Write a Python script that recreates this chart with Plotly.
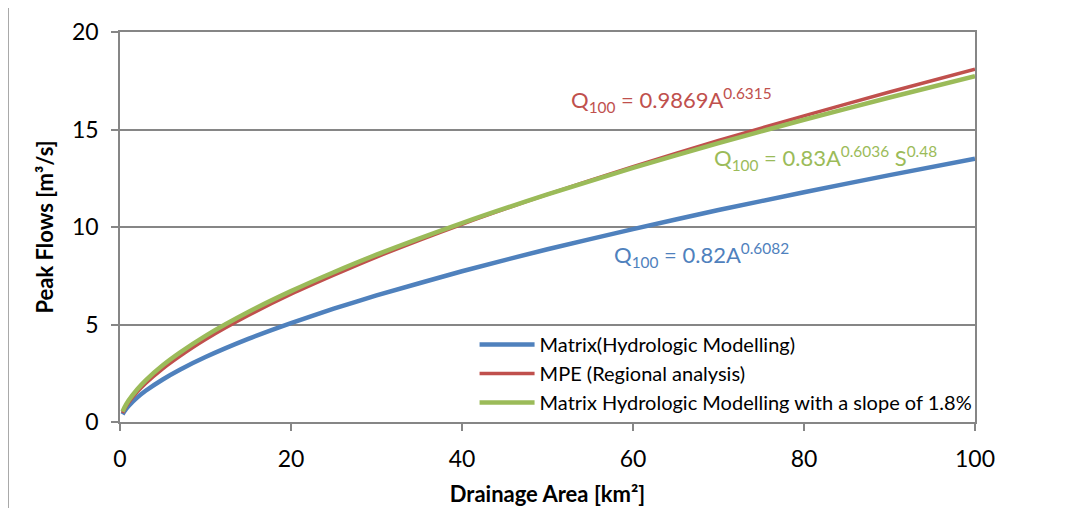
import plotly.graph_objects as go

area = [0.3, 0.5, 1, 2, 3, 5, 7, 10, 15, 20, 25, 30, 40, 50, 60, 70, 80, 90, 100]
matrix = [0.394, 0.538, 0.82, 1.25, 1.60, 2.18, 2.68, 3.33, 4.26, 5.07, 5.81, 6.49, 7.73, 8.86, 9.89, 10.87, 11.78, 12.66, 13.50]
mpe = [0.461, 0.637, 0.987, 1.53, 1.98, 2.73, 3.37, 4.23, 5.46, 6.55, 7.53, 8.46, 10.14, 11.67, 13.10, 14.44, 15.70, 16.92, 18.09]
matrix_slope = [0.532, 0.724, 1.10, 1.67, 2.14, 2.91, 3.56, 4.42, 5.64, 6.71, 7.68, 8.58, 10.20, 11.67, 13.03, 14.30, 15.50, 16.64, 17.74]

names = ["Matrix(Hydrologic Modelling)", "MPE (Regional analysis)",
         "Matrix Hydrologic Modelling with a slope of 1.8%"]
colors = ["#4F81BD", "#C0504D", "#9BBB59"]
widths = [4.5, 3.5, 4.5]

eq_text = ["Q<sub>100</sub> = 0.82A<sup>0.6082</sup>",
           "Q<sub>100</sub> = 0.9869A<sup>0.6315</sup>",
           "Q<sub>100</sub> = 0.83A<sup>0.6036</sup> S<sup>0.48</sup>"]
eq_x = [57.5, 52.5, 69.2]
eq_y = [8.55, 16.5, 13.55]

FONT = "Lato"
fig = go.Figure()
for y, n, c, w in zip([matrix, mpe, matrix_slope], names, colors, widths):
    fig.add_trace(go.Scatter(x=area, y=y, mode="lines", name=n,
                             line=dict(color=c, width=w, shape="spline", smoothing=0.6)))

for t, xv, yv, c in zip(eq_text, eq_x, eq_y, colors):
    fig.add_annotation(x=xv, y=yv, xref="x", yref="y", xanchor="left", yanchor="middle",
                       text=t, showarrow=False, font=dict(family=FONT, size=22, color=c))

# outer chart frame
fig.add_shape(type="line", xref="paper", yref="paper", x0=-0.131, x1=-0.131, y0=-0.3, y1=1.068,
              line=dict(color="#8C8C8C", width=1.5))
fig.add_shape(type="line", xref="paper", yref="paper", x0=-0.131, x1=1.3, y0=1.068, y1=1.068,
              line=dict(color="#8C8C8C", width=1.5))

fig.update_layout(
    width=1086, height=508,
    margin=dict(l=112, r=119, t=24, b=94),
    paper_bgcolor="white", plot_bgcolor="white",
    font=dict(family=FONT, color="black"),
    showlegend=True,
    legend=dict(x=1.003, y=0, xanchor="right", yanchor="bottom", bgcolor="rgba(0,0,0,0)",
                font=dict(family=FONT, size=20), tracegroupgap=0, itemwidth=55,
                borderwidth=0),
    xaxis=dict(range=[0, 100], dtick=20, showgrid=False, showline=True, linecolor="#868686",
               linewidth=1.5, ticks="outside", ticklen=7, tickcolor="#868686", tickwidth=1.5,
               tickfont=dict(size=23), mirror=True, zeroline=False, automargin=False,
               ticklabelstandoff=9,
               title=dict(text="<b>Drainage Area [km²]</b>", font=dict(size=22), standoff=15)),
    yaxis=dict(range=[0, 20], dtick=5, showgrid=True, gridcolor="#868686", gridwidth=1.5,
               showline=True, linecolor="#868686", linewidth=1.5, ticks="outside", ticklen=7,
               tickcolor="#868686", tickwidth=1.5, tickfont=dict(size=23), mirror=True,
               zeroline=False, automargin=False, ticklabelstandoff=8,
               title=dict(text="<b>Peak Flows [m³/s]</b>", font=dict(size=22), standoff=12)),
)
fig.write_html("out.html")
